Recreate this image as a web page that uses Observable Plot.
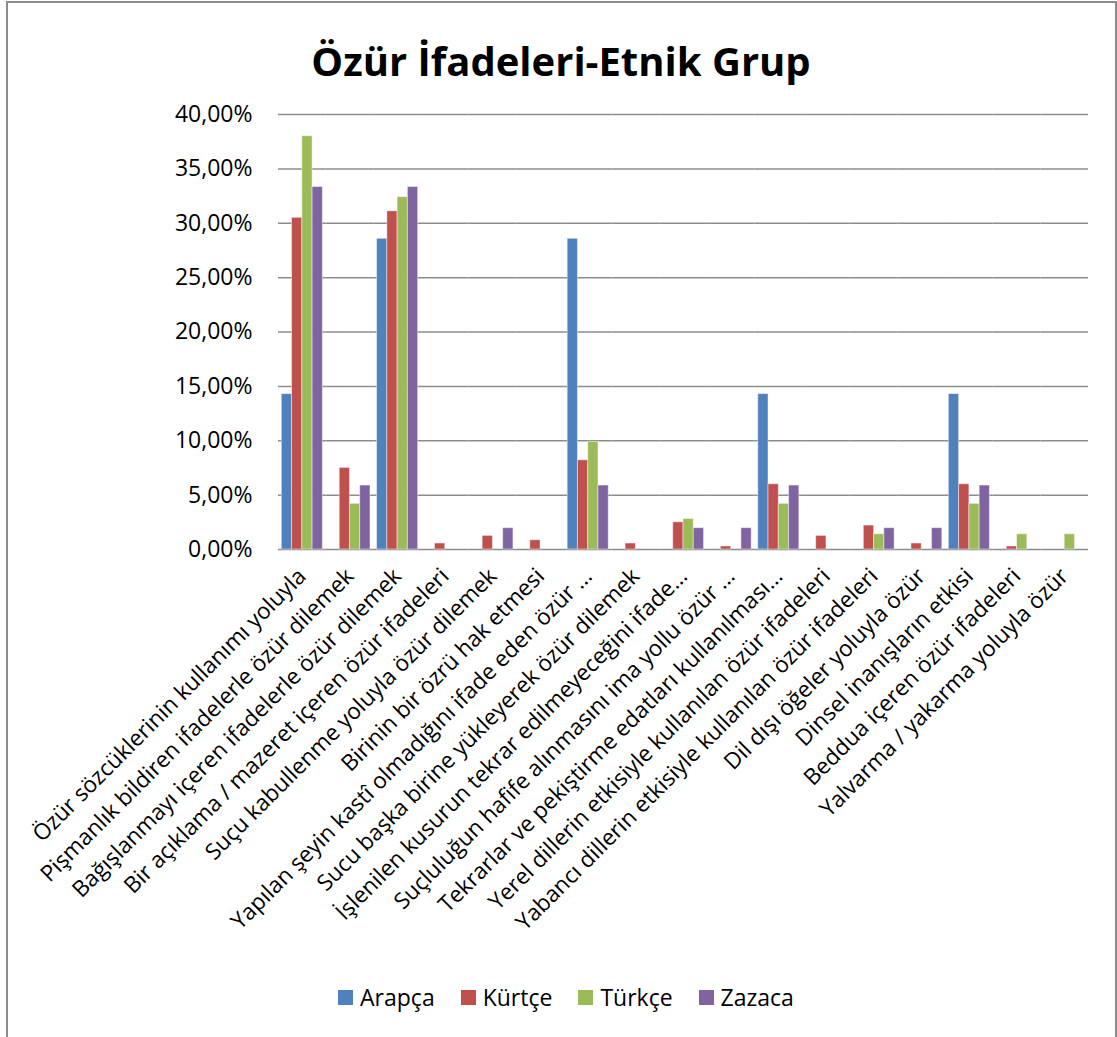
<!DOCTYPE html>
<html><head><meta charset="utf-8">
<script src="https://cdn.jsdelivr.net/npm/d3@7"></script>
<script src="https://cdn.jsdelivr.net/npm/@observablehq/plot@0.6"></script>
<style>
body{margin:0;background:#fff;font-family:"Open Sans",sans-serif}
#wrap{position:relative;width:1117px;height:1037px;overflow:hidden;background:#fff}
.bl{position:absolute;background:#8c8c8c}
#title{box-sizing:border-box;height:100px;padding-top:41px;padding-left:5px;line-height:40px;font-size:40px;font-weight:700;text-align:center;color:#000}
#chart svg{display:block;overflow:visible}
#legend{margin-top:35px;height:24px;display:flex;justify-content:center;align-items:center;padding-left:15px;font-size:23px;line-height:24px;color:#000}
#legend .it{display:flex;align-items:center;margin:0 13px}
#legend .sw{width:15px;height:15px;margin-right:7px}
</style></head>
<body>
<div id="wrap">
  <div class="bl" style="left:6px;top:1px;width:2px;height:1037px"></div>
  <div class="bl" style="left:6px;top:1px;width:1111px;height:2px"></div>
  <div class="bl" style="left:1115px;top:1px;width:2px;height:1037px"></div>
  <div id="title">Özür İfadeleri-Etnik Grup</div>
  <div id="chart"></div>
  <div id="legend"></div>
</div>
<script>
const categories = [
  "Özür sözcüklerinin kullanımı yoluyla",
  "Pişmanlık bildiren ifadelerle özür dilemek",
  "Bağışlanmayı içeren ifadelerle özür dilemek",
  "Bir açıklama / mazeret içeren özür ifadeleri",
  "Suçu kabullenme yoluyla özür dilemek",
  "Birinin bir özrü hak etmesi",
  "Yapılan şeyin kastî olmadığını ifade eden özür …",
  "Sucu başka birine yükleyerek özür dilemek",
  "İşlenilen kusurun tekrar edilmeyeceğini ifade…",
  "Suçluluğun hafife alınmasını ima yollu özür …",
  "Tekrarlar ve pekiştirme edatları kullanılması…",
  "Yerel dillerin etkisiyle kullanılan özür ifadeleri",
  "Yabancı dillerin etkisiyle kullanılan özür ifadeleri",
  "Dil dışı öğeler yoluyla özür",
  "Dinsel inanışların etkisi",
  "Beddua içeren özür ifadeleri",
  "Yalvarma / yakarma yoluyla özür"
];
const series = ["Arapça", "Kürtçe", "Türkçe", "Zazaca"];
const colors = ["#4F81BD", "#C0504D", "#9BBB59", "#8064A2"];
const arapca = [14.29, 0, 28.57, 0, 0, 0, 28.57, 0, 0, 0, 14.29, 0, 0, 0, 14.29, 0, 0];
const kurtce = [30.5, 7.5, 31.1, 0.55, 1.25, 0.85, 8.2, 0.55, 2.5, 0.28, 6.0, 1.25, 2.2, 0.55, 6.0, 0.28, 0];
const turkce = [38.0, 4.2, 32.4, 0, 0, 0, 9.9, 0, 2.8, 0, 4.2, 0, 1.4, 0, 4.2, 1.4, 1.4];
const zazaca = [33.33, 5.88, 33.33, 0, 1.96, 0, 5.88, 0, 1.96, 1.96, 5.88, 0, 1.96, 1.96, 5.88, 0, 0];
const yTicks = [0, 5, 10, 15, 20, 25, 30, 35, 40];

const seriesValues = [arapca, kurtce, turkce, zazaca];
const data = categories.flatMap((c, i) => series.map((s, j) => ({cat: c, series: s, value: seriesValues[j][i]})));
const fmt = d => d.toFixed(2).replace(".", ",") + "%";

const chart = Plot.plot({
  width: 1117, height: 850,
  marginLeft: 278, marginRight: 29, marginTop: 14, marginBottom: 401,
  style: {fontFamily: "Open Sans", fontSize: "23px", color: "#000", background: "transparent", overflow: "visible"},
  fx: {domain: categories, padding: 0, round: false, label: null},
  x: {domain: series, paddingInner: 0, paddingOuter: 0.32, round: false, axis: null},
  y: {domain: [0, 40]},
  color: {domain: series, range: colors},
  marks: [
    Plot.gridY(yTicks, {stroke: "#8c8c8c", strokeOpacity: 1, strokeWidth: 1.5}),
    Plot.barY(data, {fx: "cat", x: "series", y: "value", fill: "series", stroke: "#fff", strokeOpacity: 0.45, strokeWidth: 1}),
    Plot.axisY(yTicks, {tickSize: 0, tickPadding: 26, tickFormat: fmt, fontSize: 23, label: null}),
    Plot.axisFx({anchor: "bottom", tickSize: 0, tickPadding: 23, tickRotate: -45, fontSize: 22.5, label: null})
  ]
});
document.getElementById("chart").appendChild(chart);

const lg = document.getElementById("legend");
series.forEach((s, i) => {
  const it = document.createElement("div"); it.className = "it";
  const sw = document.createElement("div"); sw.className = "sw"; sw.style.background = colors[i];
  const tx = document.createElement("span"); tx.textContent = s;
  it.appendChild(sw); it.appendChild(tx); lg.appendChild(it);
});
</script>
</body></html>
